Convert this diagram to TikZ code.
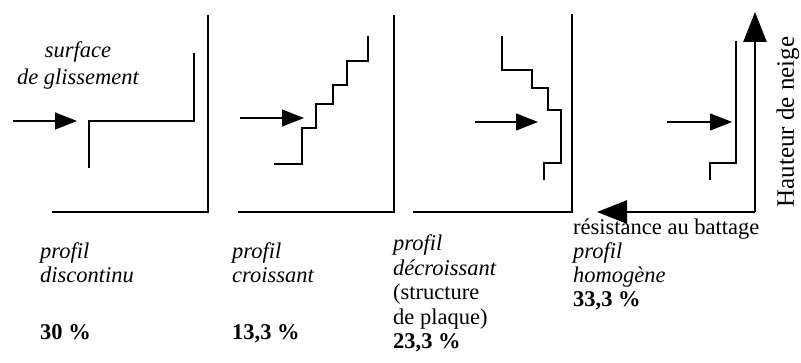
\documentclass[tikz,border=0pt]{standalone}
\usepackage{fontspec}
\setmainfont{Liberation Serif}
\usetikzlibrary{arrows.meta}

\begin{document}
\begin{tikzpicture}[x=1pt, y=-1pt,
        axis/.style={line width=2.6pt},
        bigaxis/.style={line width=2.6pt, -{Triangle[length=30pt, width=23pt]}},
        prof/.style={line width=2.8pt, line join=miter},
        push/.style={line width=1.2pt, -{Triangle[length=22pt, width=17pt]}},
        lbl/.style={anchor=base west, align=left, inner sep=0pt, font=\fontsize{22.5}{24.5}\selectfont}]
        \useasboundingbox (0,0) rectangle (801,363);
        % discontinu
        \draw[axis] (208,15) -- (208,212) -- (52,212);
        \draw[prof] (194,53) -- (194,121) -- (89,121) -- (89,168);
        \coordinate (s1) at (13,121);
        \coordinate (e1) at (77,121);
        \draw[push] (s1) -- (e1);
        \node[lbl, anchor=base, align=center, font=\fontsize{22.5}{27}\selectfont\itshape] (glis) at (78,85) {surface\\de glissement};
        \node[lbl] (lab1) at (40,283) {\textit{profil}\\\textit{discontinu}};
        \node[lbl] (pct1) at (40,340) {\textbf{30 \%}};
        % croissant
        \draw[axis] (394,15) -- (394,212) -- (238,212);
        \draw[prof] (274,164) -- (302,164) -- (302,128) -- (316,128) -- (316,104) -- (333,104)
            -- (333,85) -- (347,85) -- (347,61) -- (368,61) -- (368,36);
        \coordinate (s2) at (240,118);
        \coordinate (e2) at (304,118);
        \draw[push] (s2) -- (e2);
        \node[lbl] (lab2) at (232,283) {\textit{profil}\\\textit{croissant}};
        \node[lbl] (pct2) at (232,340) {\textbf{13,3 \%}};
        % decroissant
        \draw[axis] (572,14) -- (572,212) -- (413,212);
        \draw[prof] (502,36) -- (502,70) -- (532,70) -- (532,88) -- (548,88) -- (548,110)
            -- (561,110) -- (561,163) -- (544,163) -- (544,180);
        \coordinate (s3) at (475,122);
        \coordinate (e3) at (538,122);
        \draw[push] (s3) -- (e3);
        \node[lbl] (lab3) at (393,349) {\textit{profil}\\\textit{décroissant}\\(structure\\de plaque)\\\textbf{23,3 \%}};
        % homogene
        \coordinate (o4) at (755,212);
        \coordinate (top4) at (755,12);
        \coordinate (left4) at (597,212);
        \draw[bigaxis] (o4) -- (top4);
        \draw[bigaxis] (o4) -- (left4);
        \draw[prof] (736,41) -- (736,163) -- (710,163) -- (710,180);
        \coordinate (s4) at (667,122);
        \coordinate (e4) at (732,122);
        \draw[push] (s4) -- (e4);
        \node[lbl, font=\fontsize{22.5}{24}\selectfont] (lab4) at (573,307) {résistance au battage\\\textit{profil}\\\textit{homogène}\\\textbf{33,3 \%}};
        \node[inner sep=0pt, rotate=90, font=\fontsize{25}{27}\selectfont] (haut) at (788,122) {Hauteur de neige};
\end{tikzpicture}
\end{document}
